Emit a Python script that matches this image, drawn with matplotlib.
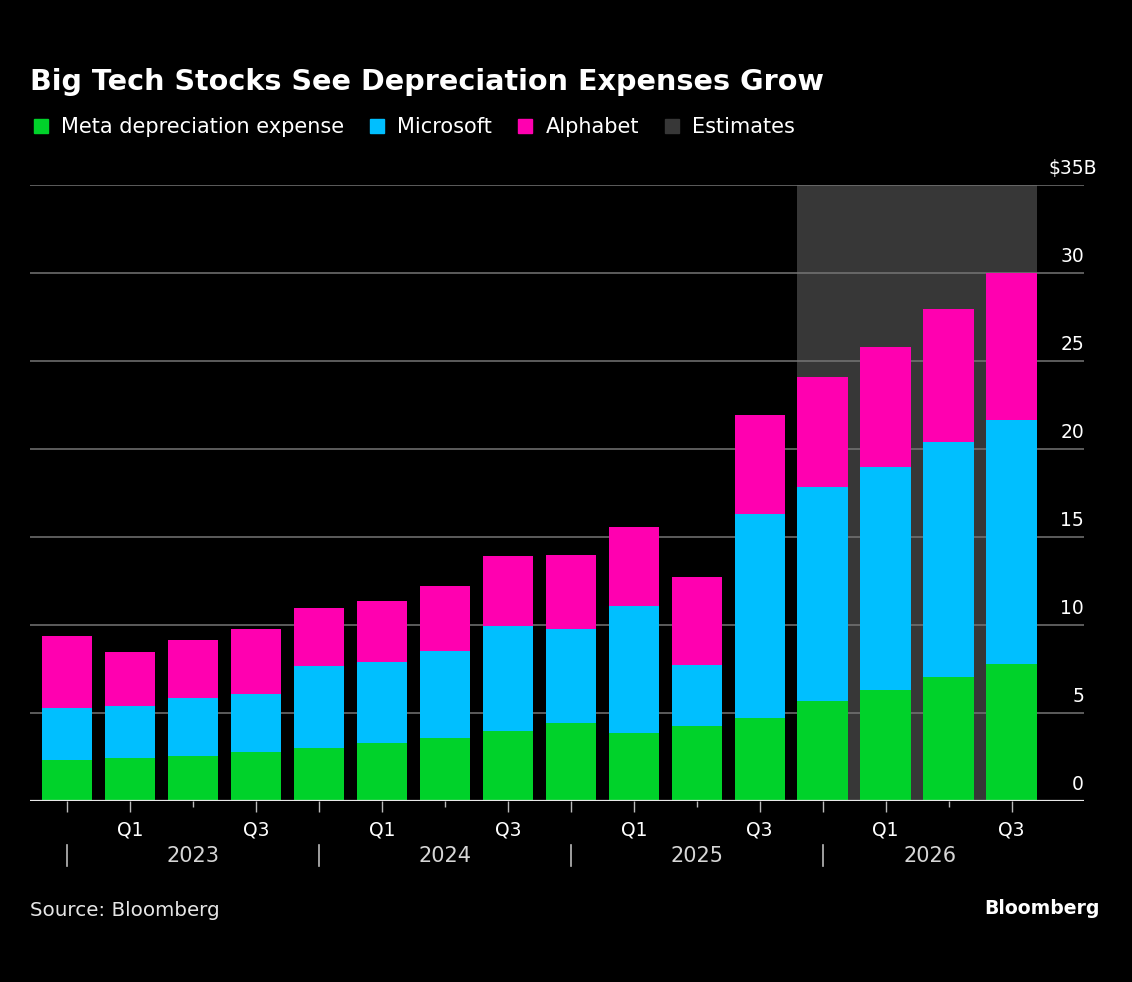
import matplotlib

matplotlib.use("Agg")
import matplotlib.pyplot as plt
import numpy as np
from matplotlib.patches import Patch

# quarterly depreciation expense, $B (Q4 2022 .. Q3 2026)
quarters = ["Q4", "Q1", "Q2", "Q3"] * 4
years = ["2023", "2024", "2025", "2026"]
meta = [2.31, 2.45, 2.56, 2.79, 3.00, 3.30, 3.56, 3.96, 4.45, 3.84, 4.26, 4.73, 5.69, 6.30, 7.03, 7.76]
microsoft = [2.98, 2.94, 3.27, 3.28, 4.67, 4.61, 4.98, 5.96, 5.30, 7.24, 3.47, 11.58, 12.14, 12.69, 13.38, 13.88]
alphabet = [4.10, 3.05, 3.30, 3.68, 3.32, 3.46, 3.69, 4.00, 4.23, 4.47, 4.98, 5.62, 6.24, 6.81, 7.55, 8.37]
estimate_start = 12
y_ticks = [0, 5, 10, 15, 20, 25, 30, 35]
y_tick_labels = ["0", "5", "10", "15", "20", "25", "30", "$35B"]

GREEN = "#00d22a"
BLUE = "#00bfff"
PINK = "#ff00b0"
SHADE = "#373737"
GRID = "#757575"
BAR_W = 0.80

W, H = 1132, 982
fig = plt.figure(figsize=(W / 100, H / 100), dpi=100, facecolor="black")
ax = fig.add_axes([30 / W, 1 - 801 / H, (1084 - 30) / W, (801 - 185) / H])
ax.set_facecolor("black")

x = np.arange(len(meta))
meta_a = np.array(meta)
msft_a = np.array(microsoft)
alph_a = np.array(alphabet)

ax.axvspan(estimate_start - BAR_W / 2, x[-1] + BAR_W / 2, color=SHADE, lw=0, zorder=0)
ax.bar(x, meta_a, BAR_W, color=GREEN, zorder=2)
ax.bar(x, msft_a, BAR_W, bottom=meta_a, color=BLUE, zorder=2)
ax.bar(x, alph_a, BAR_W, bottom=meta_a + msft_a, color=PINK, zorder=2)

ax.set_xlim(-0.588, 16.15)
ax.set_ylim(0, 35)
for s in ax.spines.values():
    s.set_visible(False)

ax.set_yticks(y_ticks)
ax.yaxis.grid(True, color=GRID, lw=1.1, zorder=1)
ax.set_axisbelow(True)
ax.tick_params(axis="y", length=0, labelleft=False, labelright=False)
ax.axhline(0, color="#e8e8e8", lw=1.6, zorder=3)

for val, lab in zip(y_ticks, y_tick_labels):
    dx = 9.5 if lab.startswith("$") else 0
    ax.annotate(lab, xy=(1, val), xycoords=("axes fraction", "data"),
                xytext=(dx, 8), textcoords="offset points",
                ha="right", va="baseline", color="white", fontsize=13.5)

major = [i for i, q in enumerate(quarters) if q != "Q2"]
minor = [i for i, q in enumerate(quarters) if q == "Q2"]
ax.set_xticks(major)
ax.set_xticklabels([quarters[i] if quarters[i] in ("Q1", "Q3") else "" for i in major])
ax.set_xticks(minor, minor=True)
ax.tick_params(axis="x", which="major", length=8, width=1, color="#bbbbbb",
               pad=6, labelsize=13.5, labelcolor="white")
ax.tick_params(axis="x", which="minor", length=4.5, width=1, color="#bbbbbb")

# year row: separators at each Q4, labels centred between them
seps = [i for i, q in enumerate(quarters) if q == "Q4"]
bounds = seps + [x[-1] + BAR_W / 2]
trans = ax.get_xaxis_transform()
axh = 801 - 185
for p in seps:
    ax.plot([p, p], [-44 / axh, -65 / axh], transform=trans, color="#bbbbbb",
            lw=1.2, clip_on=False)
for yr, a, b in zip(years, bounds[:-1], bounds[1:]):
    ax.text((a + b) / 2, -55 / axh, yr, transform=trans, ha="center", va="center",
            color="#d6d6d6", fontsize=15)

fig.text(30 / W, 1 - 90 / H, "Big Tech Stocks See Depreciation Expenses Grow",
         color="white", fontsize=20.6, fontweight="bold", va="baseline")

handles = [Patch(color=GREEN), Patch(color=BLUE), Patch(color=PINK), Patch(color=SHADE)]
labels = ["Meta depreciation expense", "Microsoft", "Alphabet", "Estimates"]
leg = fig.legend(handles, labels, ncol=4, loc="center left",
                 bbox_to_anchor=(34 / W, 1 - 127 / H), frameon=False,
                 fontsize=15, handlelength=0.68, handleheight=0.68,
                 handletextpad=0.62, columnspacing=1.25, borderaxespad=0,
                 borderpad=0)
for t in leg.get_texts():
    t.set_color("white")

fig.text(30 / W, 1 - 916 / H, "Source: Bloomberg", color="#e6e6e6",
         fontsize=14.3, va="baseline")
fig.text(1100 / W, 1 - 914 / H, "Bloomberg", color="white", fontsize=13.6,
         fontweight="bold", va="baseline", ha="right")

fig.savefig("out.png", dpi=100, facecolor="black")
